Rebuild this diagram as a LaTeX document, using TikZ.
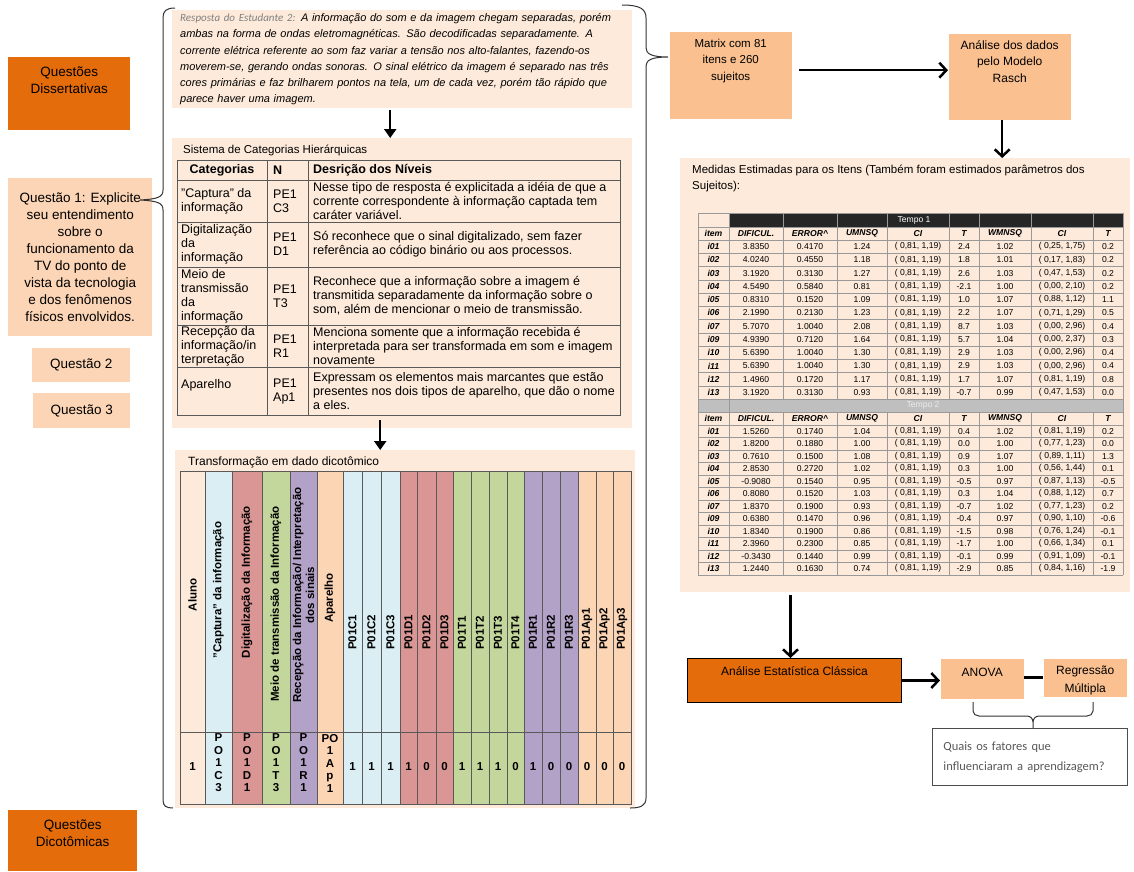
\documentclass[tikz,border=0pt]{standalone}
\usepackage{fontspec}
\setmainfont{Liberation Sans}
\newfontfamily\carlito{Carlito}
\usetikzlibrary{arrows.meta,positioning}

\definecolor{darkorange}{HTML}{E46C0A}
\definecolor{peach}{HTML}{FBD5B5}
\definecolor{paleback}{HTML}{FDEADA}
\definecolor{midorange}{HTML}{FAC090}
\definecolor{catblue}{HTML}{DBEEF4}
\definecolor{catred}{HTML}{D99694}
\definecolor{catgreen}{HTML}{C3D69B}
\definecolor{catpurple}{HTML}{B3A2C7}
\definecolor{catpeach}{HTML}{FCD5B5}
\definecolor{darkband}{HTML}{262626}
\definecolor{greyband}{HTML}{BFBFBF}
\definecolor{askgray}{HTML}{595959}
\definecolor{answergray}{HTML}{808080}

\tikzset{
  darkbox/.style={fill=darkorange, inner sep=0pt, anchor=north west},
  peachbox/.style={fill=peach, inner sep=0pt, align=center, anchor=north west},
  orangebox/.style={fill=midorange, inner sep=0pt, anchor=north west},
  panel/.style={fill=paleback, inner sep=0pt, anchor=north west},
  boxtext/.style={inner sep=0pt, align=center, font=\fontsize{13.5}{17}\selectfont},
  downarrow/.style={-{Triangle[length=9pt,width=12pt]}, line width=2.5pt},
  flowarrow/.style={-{Straight Barb[length=7pt,width=15pt]}, line width=2.5pt},
  bracepen/.style={draw=black!80, line width=1pt},
  tablepen/.style={draw=black!65, line width=0.9pt},
  gridline/.style={draw=black!40, line width=0.5pt},
  celltext/.style={inner sep=0pt, anchor=west, align=left, font=\fontsize{12.5}{14}\selectfont},
  headlabel/.style={rotate=90, inner sep=0pt, align=center, font=\fontsize{11.5}{13}\selectfont\bfseries},
  stacked/.style={inner sep=0pt, align=center, font=\fontsize{11.5}{12.5}\selectfont\bfseries},
  datum/.style={inner sep=0pt, font=\fontsize{8.6}{10}\selectfont},
  colhead/.style={inner sep=0pt, font=\fontsize{8.6}{10}\selectfont\bfseries\itshape},
}

\begin{document}
\begin{tikzpicture}[x=1pt, y=-1pt]
\useasboundingbox (0,0) rectangle (1134,871);

% left column
\node[darkbox, minimum width=122pt, minimum height=73pt] (diss) at (8,57) {};
\node[boxtext, below=10pt of diss.north] (disstext) {Questões\\Dissertativas};
\node[peachbox, minimum width=144pt, minimum height=158pt,
  font=\fontsize{13.5}{17}\selectfont] (q1) at (8,178)
  {Questão 1: Explicite\\seu entendimento\\sobre o\\funcionamento da\\TV do ponto de\\vista da tecnologia\\e dos fenômenos\\físicos envolvidos.};
\node[peachbox, minimum width=98pt, minimum height=34pt,
  font=\fontsize{13.5}{17}\selectfont] (q2) at (32,348) {Questão 2};
\node[peachbox, minimum width=97pt, minimum height=35pt,
  font=\fontsize{13.5}{17}\selectfont] (q3) at (33,393) {Questão 3};
\node[darkbox, minimum width=129pt, minimum height=61pt] (dico) at (8,810) {};
\node[boxtext, below=10pt of dico.north] (dicotext) {Questões\\Dicotômicas};

% student answer
\node[panel, minimum width=460pt, minimum height=98pt, text width=444pt, inner xsep=8pt,
  align=left, font=\fontsize{11}{16.2}\selectfont\itshape] (answer) at (172,10)
  {{\carlito\color{answergray}Resposta do Estudante 2:} A informação do som e da imagem chegam separadas, porém\\
   ambas na forma de ondas eletromagnéticas. São decodificadas separadamente. A\\
   corrente elétrica referente ao som faz variar a tensão nos alto-falantes, fazendo-os\\
   moverem-se, gerando ondas sonoras. O sinal elétrico da imagem é separado nas três\\
   cores primárias e faz brilharem pontos na tela, um de cada vez, porém tão rápido que\\
   parece haver uma imagem.};

% category system
\node[panel, minimum width=460pt, minimum height=290pt] (catpanel) at (172,138) {};
\node[anchor=west, inner sep=0pt, font=\fontsize{11.5}{14}\selectfont] (cattitle) at (183,150)
  {Sistema de Categorias Hierárquicas};
\draw[tablepen] (177,160) rectangle (620,415);
\foreach \y in {180,222,267,325,367} \draw[tablepen] (177,\y) -- (620,\y);
\foreach \x in {267,308} \draw[tablepen] (\x,160) -- (\x,415);
\node[celltext, anchor=center, font=\fontsize{12.5}{14}\selectfont\bfseries] (hcat) at (222,170) {Categorias};
\node[celltext, font=\fontsize{12.5}{14}\selectfont\bfseries] (hlev) at (273,170) {N};
\node[celltext, font=\fontsize{12.5}{14}\selectfont\bfseries] (hdesc) at (313,170) {Desrição dos Níveis};
\foreach \y/\cat/\code/\desc [count=\r] in {
  201/{"Captura" da\\informação}/{PE1\\C3}/{Nesse tipo de resposta é explicitada a idéia de que a\\corrente correspondente à informação captada tem\\caráter variável.},
  244.5/{Digitalização\\da\\informação}/{PE1\\D1}/{Só reconhece que o sinal digitalizado, sem fazer\\referência ao código binário ou aos processos.},
  296/{Meio de\\transmissão\\da\\informação}/{PE1\\T3}/{Reconhece que a informação sobre a imagem é\\transmitida separadamente da informação sobre o\\som, além de mencionar o meio de transmissão.},
  346/{Recepção da\\informação/in\\terpretação}/{PE1\\R1}/{Menciona somente que a informação recebida é\\interpretada para ser transformada em som e imagem\\novamente},
  391/{Aparelho\\~}/{PE1\\Ap1}/{Expressam os elementos mais marcantes que estão\\presentes nos dois tipos de aparelho, que dão o nome\\a eles.}}{
  \node[celltext] (cat\r) at (181,\y) {\cat};
  \node[celltext] (code\r) at (273,\y) {\code};
  \node[celltext] (desc\r) at (313,\y) {\desc};
}

% dichotomic data
\node[panel, minimum width=460pt, minimum height=358pt] (transpanel) at (175,450) {};
\node[anchor=west, inner sep=0pt, font=\fontsize{12}{14}\selectfont] (transtitle) at (188,462)
  {Transformação em dado dicotômico};
\foreach \xa/\xb/\col in {180/205/paleback, 205/232/catblue, 232/262/catred,
    262/290/catgreen, 290/317/catpurple, 317/343/catpeach}
  \filldraw[fill=\col, draw=black!65] (\xa,471) rectangle (\xb,804);
\node[headlabel] (haluno) at (192.5,595) {Aluno};
\node[headlabel] (hcaptura) at (218.5,590) {"Captura" da informação};
\node[headlabel] (hdigital) at (247,582) {Digitalização da Informação};
\node[headlabel] (hmeio) at (276,604) {Meio de transmissão da Informação};
\node[headlabel] (hrecep) at (303.5,595) {Recepção da Informação/ Interpretação\\dos sinais};
\node[headlabel] (haparelho) at (330,598) {Aparelho};
\node[stacked] (valuno) at (192.5,767) {1};
\node[stacked] (vcaptura) at (218.5,763) {P\\O\\1\\C\\3};
\node[stacked] (vdigital) at (247,763) {P\\O\\1\\D\\1};
\node[stacked] (vmeio) at (276,763) {P\\O\\1\\T\\3};
\node[stacked] (vrecep) at (303.5,763) {P\\O\\1\\R\\1};
\node[stacked] (vaparelho) at (330,763) {PO\\1\\A\\p\\1};
\foreach \xa/\xb/\col/\lab/\val in {343/362/catblue/P01C1/1, 362/381/catblue/P01C2/1,
    381/400/catblue/P01C3/1, 400/417/catred/P01D1/1, 417/436/catred/P01D2/0,
    436/453/catred/P01D3/0, 453/471/catgreen/P01T1/1, 471/489/catgreen/P01T2/1,
    489/507/catgreen/P01T3/1, 507/524/catgreen/P01T4/0, 524/542/catpurple/P01R1/1,
    542/560/catpurple/P01R2/0, 560/578/catpurple/P01R3/0, 578/596/catpeach/P01Ap1/0,
    596/613/catpeach/P01Ap2/0, 613/631/catpeach/P01Ap3/0}{
  \filldraw[fill=\col, draw=black!65] (\xa,471) rectangle (\xb,804);
  \node[headlabel, anchor=west] (h\lab) at ({(\xa+\xb)/2},650) {\lab};
  \node[stacked] (v\lab) at ({(\xa+\xb)/2},767) {\val};
}
\draw[black!65, line width=0.9pt] (180,732) -- (631,732);

% braces
\coordinate (lbtip) at (140,200);
\coordinate (rbtip) at (668,57);
\draw[bracepen] (175,8) .. controls (166,8) and (163,11) .. (163,18) -- (163,190)
  .. controls (163,197) and (158,199) .. (lbtip)
  .. controls (158,201) and (163,203) .. (163,210) -- (163,800)
  .. controls (163,806) and (166,808) .. (173,808);
\draw[bracepen] (622,5) .. controls (640,5) and (646,9) .. (646,18) -- (646,48)
  .. controls (646,54) and (652,57) .. (rbtip)
  .. controls (652,57) and (646,60) .. (646,66) -- (646,798)
  .. controls (646,806) and (640,808) .. (630,808);

% middle arrows
\draw[downarrow, shorten <=2pt] ([xshift=-12pt]answer.south) -- ([xshift=-12pt]answer.south |- catpanel.north);
\draw[downarrow, shorten <=-8pt] ([xshift=-22pt]catpanel.south) -- ([xshift=-22pt]catpanel.south |- transpanel.north);

% Rasch analysis
\node[orangebox, draw=white, minimum width=123pt, minimum height=88pt] (matrix) at (669,31) {};
\node[boxtext, font=\fontsize{11.5}{16.5}\selectfont, below=7.5pt of matrix.north] (matrixtext)
  {Matrix com 81\\itens e 260\\sujeitos};
\node[orangebox, draw=white, minimum width=123pt, minimum height=87pt] (rasch) at (948,33) {};
\node[boxtext, font=\fontsize{12}{16.3}\selectfont, below=7.5pt of rasch.north] (raschtext)
  {Análise dos dados\\pelo Modelo\\Rasch};
\draw[flowarrow, shorten <=7pt] ([yshift=5pt]matrix.east) -- ([yshift=5pt]matrix.east -| rasch.west);

\node[panel, minimum width=450pt, minimum height=434pt] (medidas) at (680,158) {};
\draw[flowarrow] ([xshift=-7.5pt]rasch.south) -- ([xshift=-7.5pt]rasch.south |- medidas.north);
\node[anchor=north west, inner sep=0pt, align=left, font=\fontsize{11.5}{16}\selectfont] (medtitle)
  at (692,165) {Medidas Estimadas para os Itens (Também foram estimados parâmetros dos\\Sujeitos):};

% item table
\fill[darkband] (729,213) rectangle (1123,227);
\fill[greyband] (698,399) rectangle (1123,412);
\foreach \x in {698,729,783,837,887,949,979,1031,1093,1123}{
  \draw[gridline] (\x,213) -- (\x,399);
  \draw[gridline] (\x,412) -- (\x,575);
}
\draw[gridline] (698,213) -- (1123,213);
\draw[gridline] (698,227) -- (1123,227);
\draw[gridline] (698,399) -- (698,412);
\draw[gridline] (729,399) -- (729,412);
\draw[gridline] (1123,399) -- (1123,412);
\draw[gridline] (698,412) -- (1123,412);
\foreach \k in {0,...,12}{
  \pgfmathsetmacro\ly{240+\k*13.25}
  \draw[gridline] (698,\ly) -- (1123,\ly);
  \pgfmathsetmacro\lz{425+\k*12.5}
  \draw[gridline] (698,\lz) -- (1123,\lz);
}
\node[datum, text=white] (tempo1) at (914,220) {Tempo 1};
\node[datum, text=white!85!gray] (tempo2) at (923,405.5) {Tempo 2};
\foreach \x/\h [count=\c] in {713.5/item, 756/DIFICUL., 810/ERROR\textasciicircum, 862/UMNSQ,
    918/CI, 964/T, 1005/WMNSQ, 1062/CI, 1108/T}{
  \node[colhead] (t1h\c) at (\x,233.5) {\h};
  \node[colhead] (t2h\c) at (\x,418.5) {\h};
}
\foreach \itm/\dif/\err/\umn/\tu/\wmn/\ciw/\tw [count=\k] in {
  i01/3.8350/0.4170/1.24/2.4/1.02/{( 0,25, 1,75)}/0.2,
  i02/4.0240/0.4550/1.18/1.8/1.01/{( 0,17, 1,83)}/0.2,
  i03/3.1920/0.3130/1.27/2.6/1.03/{( 0,47, 1,53)}/0.2,
  i04/4.5490/0.5840/0.81/-2.1/1.00/{( 0,00, 2,10)}/0.2,
  i05/0.8310/0.1520/1.09/1.0/1.07/{( 0,88, 1,12)}/1.1,
  i06/2.1990/0.2130/1.23/2.2/1.07/{( 0,71, 1,29)}/0.5,
  i07/5.7070/1.0040/2.08/8.7/1.03/{( 0,00, 2,96)}/0.4,
  i09/4.9390/0.7120/1.64/5.7/1.04/{( 0,00, 2,37)}/0.3,
  i10/5.6390/1.0040/1.30/2.9/1.03/{( 0,00, 2,96)}/0.4,
  i11/5.6390/1.0040/1.30/2.9/1.03/{( 0,00, 2,96)}/0.4,
  i12/1.4960/0.1720/1.17/1.7/1.07/{( 0,81, 1,19)}/0.8,
  i13/3.1920/0.3130/0.93/-0.7/0.99/{( 0,47, 1,53)}/0.0}{
  \pgfmathsetmacro\ry{240+(\k-0.5)*13.25}
  \node[colhead] (t1-\k-1) at (713.5,\ry) {\itm};
  \node[datum] (t1-\k-2) at (756,\ry) {\dif};
  \node[datum] (t1-\k-3) at (810,\ry) {\err};
  \node[datum] (t1-\k-4) at (862,\ry) {\umn};
  \node[datum] (t1-\k-5) at (918,\ry) {( 0,81, 1,19)};
  \node[datum] (t1-\k-6) at (964,\ry) {\tu};
  \node[datum] (t1-\k-7) at (1005,\ry) {\wmn};
  \node[datum] (t1-\k-8) at (1062,\ry) {\ciw};
  \node[datum] (t1-\k-9) at (1108,\ry) {\tw};
}
\foreach \itm/\dif/\err/\umn/\tu/\wmn/\ciw/\tw [count=\k] in {
  i01/1.5260/0.1740/1.04/0.4/1.02/{( 0,81, 1,19)}/0.2,
  i02/1.8200/0.1880/1.00/0.0/1.00/{( 0,77, 1,23)}/0.0,
  i03/0.7610/0.1500/1.08/0.9/1.07/{( 0,89, 1,11)}/1.3,
  i04/2.8530/0.2720/1.02/0.3/1.00/{( 0,56, 1,44)}/0.1,
  i05/-0.9080/0.1540/0.95/-0.5/0.97/{( 0,87, 1,13)}/-0.5,
  i06/0.8080/0.1520/1.03/0.3/1.04/{( 0,88, 1,12)}/0.7,
  i07/1.8370/0.1900/0.93/-0.7/1.02/{( 0,77, 1,23)}/0.2,
  i09/0.6380/0.1470/0.96/-0.4/0.97/{( 0,90, 1,10)}/-0.6,
  i10/1.8340/0.1900/0.86/-1.5/0.98/{( 0,76, 1,24)}/-0.1,
  i11/2.3960/0.2300/0.85/-1.7/1.00/{( 0,66, 1,34)}/0.1,
  i12/-0.3430/0.1440/0.99/-0.1/0.99/{( 0,91, 1,09)}/-0.1,
  i13/1.2440/0.1630/0.74/-2.9/0.85/{( 0,84, 1,16)}/-1.9}{
  \pgfmathsetmacro\ry{425+(\k-0.5)*12.5}
  \node[colhead] (t2-\k-1) at (713.5,\ry) {\itm};
  \node[datum] (t2-\k-2) at (756,\ry) {\dif};
  \node[datum] (t2-\k-3) at (810,\ry) {\err};
  \node[datum] (t2-\k-4) at (862,\ry) {\umn};
  \node[datum] (t2-\k-5) at (918,\ry) {( 0,81, 1,19)};
  \node[datum] (t2-\k-6) at (964,\ry) {\tu};
  \node[datum] (t2-\k-7) at (1005,\ry) {\wmn};
  \node[datum] (t2-\k-8) at (1062,\ry) {\ciw};
  \node[datum] (t2-\k-9) at (1108,\ry) {\tw};
}

% classical analysis
\node[darkbox, draw=black, line width=1pt, minimum width=214pt, minimum height=44pt] (classic) at (687,658) {};
\node[boxtext, font=\fontsize{12}{16}\selectfont, below=8.5pt of classic.north] (classictext)
  {Análise Estatística Clássica};
\draw[downarrow, -{Straight Barb[length=7pt,width=15pt]}, shorten <=3pt]
  ([xshift=-4pt]classic.north |- medidas.south) -- ([xshift=-4pt]classic.north);
\node[orangebox, draw=white, minimum width=84pt, minimum height=41pt] (anova) at (940,658) {};
\node[boxtext, font=\fontsize{12}{16}\selectfont, below=9.5pt of anova.north] (anovatext) {ANOVA};
\node[orangebox, draw=white, minimum width=84pt, minimum height=39pt] (regress) at (1043,658) {};
\node[boxtext, font=\fontsize{12}{18}\selectfont, below=7.5pt of regress.north] (regresstext)
  {Regressão\\Múltipla};
\draw[flowarrow] (classic.east) -- (classic.east -| anova.west);
\draw[line width=2.5pt] ([yshift=1pt]anova.east) -- ([yshift=1pt]anova.east -| regress.west);

\node[draw=black!70, line width=0.8pt, fill=white, anchor=north west, minimum width=195pt,
  minimum height=57pt, text width=173pt, inner xsep=11pt, align=left, text=askgray,
  font=\carlito\fontsize{12.5}{20}\selectfont] (ask) at (932,728)
  {Quais os fatores que\\influenciaram a aprendizagem?};
\coordinate (bleft) at (973,702);
\coordinate (bright) at (1093,702);
\draw[bracepen] (bleft) -- (973,711) to[out=-90,in=180] (979,716) -- (1027,716)
  to[out=0,in=90] (1033,722) -- (1033,728);
\draw[bracepen] (1033,722) to[out=90,in=180] (1039,716) -- (1087,716)
  to[out=0,in=-90] (1093,711) -- (bright);
\end{tikzpicture}
\end{document}
